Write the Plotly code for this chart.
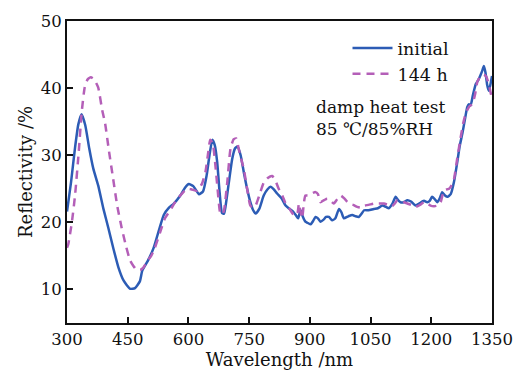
import plotly.graph_objects as go

# initial
wl_initial = [300, 310, 320, 328, 336, 345, 355, 365, 377, 390, 402, 415, 427, 440, 456, 468, 480, 486,
              500, 514, 527, 539, 552, 564, 580, 592, 601, 612, 626, 636, 645, 652, 659, 665, 671, 677,
              683, 688, 692, 700, 708, 715, 721, 729, 737, 745, 753, 760, 766, 775, 786, 795, 803, 811,
              819, 830, 840, 850, 860, 866, 871, 877, 883, 889, 895, 902, 908, 914, 920, 926, 934, 940,
              947, 955, 963, 972, 978, 984, 995, 1005, 1013, 1021, 1028, 1034, 1045, 1058, 1068, 1079,
              1088, 1095, 1104, 1112, 1118, 1124, 1132, 1141, 1150, 1161, 1170, 1182, 1190, 1196, 1202,
              1208, 1215, 1221, 1227, 1234, 1240, 1248, 1256, 1264, 1270, 1277, 1283, 1289, 1293, 1297,
              1303, 1310, 1316, 1322, 1326, 1330, 1334, 1338, 1342, 1346, 1350]
r_initial = [21.6, 26.0, 31.2, 34.6, 36.1, 34.5, 31.0, 28.0, 25.5, 22.0, 19.2, 16.0, 13.3, 11.3, 10.1, 10.2, 11.2, 12.8,
             14.3, 16.2, 18.8, 21.1, 22.2, 22.8, 24.0, 25.2, 25.7, 25.4, 24.2, 24.6, 27.0, 30.0, 32.3, 31.5, 29.0, 24.5,
             21.4, 21.3, 22.5, 26.0, 29.4, 31.0, 31.3, 30.0, 27.4, 25.0, 23.0, 21.8, 21.3, 22.0, 24.0, 24.9, 25.3, 24.9,
             24.3, 23.6, 22.5, 22.0, 21.5, 21.0, 20.6, 21.8, 20.8, 20.1, 19.9, 19.7, 20.2, 20.8, 20.6, 20.1, 20.4, 20.8,
             20.8, 20.3, 20.6, 22.0, 21.5, 20.6, 20.9, 21.1, 20.9, 20.8, 21.3, 21.8, 21.8, 22.0, 22.1, 22.5,
             22.3, 22.1, 22.8, 23.8, 23.3, 23.0, 23.0, 23.3, 23.1, 22.5, 22.8, 23.2, 23.0, 23.2, 23.8,
             23.5, 23.0, 23.6, 24.5, 24.0, 23.8, 24.2, 26.0, 28.9, 31.3, 33.3, 35.3, 37.2, 37.6, 37.4,
             39.0, 40.6, 41.2, 42.0, 42.6, 43.3, 42.3, 40.5, 39.6, 40.5, 41.8]

# 144 h
wl_144h = [300, 303, 312, 320, 329, 336, 344, 351, 359, 367, 377, 387, 394, 404, 414, 424, 435, 446, 456,
           464, 472, 481, 488, 498, 508, 517, 530, 542, 555, 567, 580, 596, 608, 621, 633, 642, 648, 654,
           660, 666, 672, 679, 684, 688, 696, 704, 712, 718, 724, 730, 737, 745, 753, 760, 766, 775, 786,
           796, 807, 815, 823, 832, 840, 850, 860, 866, 870, 873, 877, 881, 885, 889, 895, 902, 908, 914,
           920, 926, 935, 943, 951, 959, 967, 976, 986, 996, 1007, 1017, 1025, 1034, 1045, 1058, 1070,
           1083, 1093, 1103, 1110, 1116, 1128, 1141, 1150, 1161, 1172, 1182, 1190, 1198, 1207, 1215,
           1223, 1231, 1238, 1244, 1250, 1256, 1264, 1273, 1279, 1285, 1293, 1302, 1308, 1314, 1322,
           1330, 1336, 1342, 1346, 1350]
r_144h = [16.2, 16.7, 20.0, 24.1, 30.5, 36.2, 40.2, 41.3, 41.6, 41.3, 40.1, 36.7, 34.8, 30.5, 26.5, 22.5, 19.2, 16.4, 14.3,
          13.5, 12.9, 12.9, 13.2, 14.2, 15.0, 16.2, 18.5, 20.6, 21.8, 23.0, 24.0, 25.0, 24.9, 24.7, 25.7, 27.5, 30.0, 32.3,
          31.8, 28.9, 25.0, 21.3, 21.2, 21.8, 26.0, 31.0, 32.4, 32.5, 31.0, 29.5, 27.9, 25.0, 22.5, 22.2, 22.5, 24.0, 25.9,
          26.6, 26.9, 26.2, 25.0, 24.0, 22.8, 22.0, 21.1, 21.0, 21.5, 22.8, 21.5, 20.6, 22.8, 24.0, 24.0, 24.2, 24.4, 24.5,
          24.2, 23.0, 23.3, 23.5, 23.2, 22.8, 23.4, 24.0, 23.5, 22.8, 22.6, 22.3, 22.2, 22.5, 22.6, 22.8, 22.8,
          22.8, 22.6, 22.4, 22.8, 23.3, 23.1, 22.8, 22.6, 22.3, 22.6, 23.0, 22.8, 22.5, 22.4, 22.5,
          23.0, 24.7, 24.9, 25.0, 25.5, 26.4, 29.5, 32.8, 34.8, 36.2, 37.2, 37.7, 39.0, 41.0, 41.8,
          42.0, 41.7, 40.6, 39.5, 38.4]

x_ticks = [300, 450, 600, 750, 900, 1050, 1200, 1350]
y_ticks = [10, 20, 30, 40, 50]

BLUE = "#2c5cb5"
PURPLE = "#b45fb8"
FONT = "DejaVu Serif"

fig = go.Figure()
fig.add_trace(go.Scatter(x=wl_initial, y=r_initial, mode="lines", name="initial",
                         line=dict(color=BLUE, width=2.5, shape="spline", smoothing=0.5)))
fig.add_trace(go.Scatter(x=wl_144h, y=r_144h, mode="lines", name="144 h",
                         line=dict(color=PURPLE, width=2.5, dash="8px,6px", shape="spline", smoothing=0.5)))

fig.add_annotation(x=0.58, y=0.68, xref="paper", yref="paper", xanchor="left", yanchor="middle",
                   text="damp heat test<br>85 ℃/85%RH", showarrow=False, align="left",
                   font=dict(family=FONT, size=17, color="#111"))

axis_common = dict(showline=True, linecolor="#111", linewidth=2, mirror=True, ticks="inside",
                   ticklen=6, tickwidth=2, tickcolor="#111", showgrid=False, zeroline=False,
                   tickfont=dict(family=FONT, size=16.5, color="#111"))

fig.update_xaxes(range=[300, 1350], tickvals=x_ticks, ticktext=[str(v) for v in x_ticks],
                 title=dict(text="Wavelength /nm", font=dict(family=FONT, size=18, color="#111"), standoff=2),
                 **axis_common)
fig.update_yaxes(range=[5, 50], tickvals=y_ticks, ticktext=[str(v) for v in y_ticks],
                 title=dict(text="Reflectivity /%", font=dict(family=FONT, size=18, color="#111"), standoff=3),
                 **axis_common)

fig.update_layout(width=527, height=375, margin=dict(l=67, r=35, t=16, b=52),
                  paper_bgcolor="white", plot_bgcolor="white",
                  legend=dict(x=0.66, y=0.97, xanchor="left", yanchor="top", bgcolor="rgba(0,0,0,0)",
                              font=dict(family=FONT, size=17.5, color="#111"), tracegroupgap=0,
                              itemwidth=40),
                  showlegend=True)

fig.write_html("out.html")
